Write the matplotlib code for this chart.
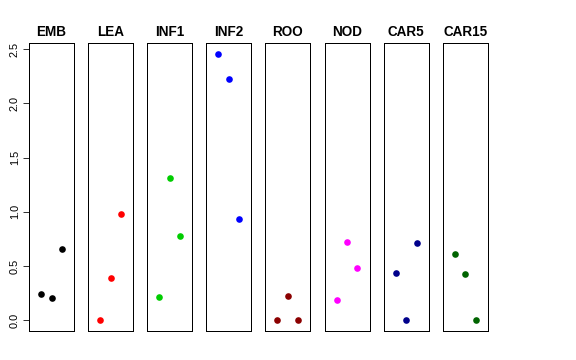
import matplotlib
matplotlib.use("Agg")
import matplotlib.pyplot as plt

plt.rcParams["font.family"] = ["Liberation Sans", "DejaVu Sans"]

tissues = ["EMB", "LEA", "INF1", "INF2", "ROO", "NOD", "CAR5", "CAR15"]
colors = ["black", "red", "#00CD00", "blue", "#8B0000", "magenta", "#00008B", "#006400"]
reps = [1, 2, 3]
emb = [0.24, 0.206, 0.655]
lea = [0.0, 0.387, 0.984]
inf1 = [0.212, 1.307, 0.781]
inf2 = [2.457, 2.223, 0.932]
roo = [0.0, 0.221, 0.0]
nod = [0.187, 0.72, 0.486]
car5 = [0.44, 0.0, 0.713]
car15 = [0.612, 0.427, 0.0]
values = [emb, lea, inf1, inf2, roo, nod, car5, car15]
yticks = [0.0, 0.5, 1.0, 1.5, 2.0, 2.5]

W, H = 576, 360
fig = plt.figure(figsize=(W / 72, H / 72), dpi=72)

ymax = max(max(v) for v in values)
pad = 0.04 * ymax
left0, width, step = 29, 45, 59.1
top, bottom = 43, 331

for i, (name, col, vals) in enumerate(zip(tissues, colors, values)):
    left = left0 + i * step
    ax = fig.add_axes([left / W, 1 - bottom / H, width / W, (bottom - top) / H])
    ax.scatter(reps, vals, s=44, color=col, zorder=3, linewidths=0)
    ax.set_xlim(-0.16, 4.16)
    ax.set_ylim(-pad, ymax + pad)
    ax.set_xticks([])
    for sp in ax.spines.values():
        sp.set_linewidth(1.0)
        sp.set_color("black")
    ax.set_title(name, fontsize=13.5, fontweight="bold", pad=7)
    if i == 0:
        ax.set_yticks(yticks)
        ax.set_yticklabels([f"{t:.1f}" for t in yticks], rotation=90,
                           va="center", fontsize=11)
        ax.tick_params(axis="y", length=6, width=0.8, pad=3)
    else:
        ax.set_yticks([])

fig.savefig("out.png", dpi=72)
